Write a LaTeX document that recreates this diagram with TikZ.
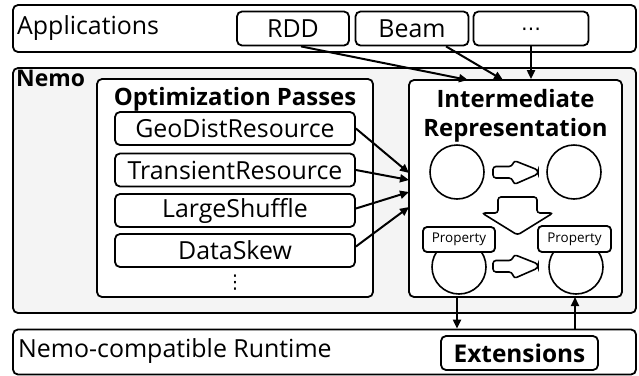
\documentclass[tikz,border=0pt]{standalone}
\usepackage{fontspec}
\setmainfont{Open Sans}
\newfontfamily\symfont{DejaVu Sans}
\usetikzlibrary{arrows.meta}

\begin{document}
\begin{tikzpicture}[x=1bp,y=-1bp,
  box/.style={draw, rounded corners=5bp, line width=1.8bp, inner sep=0pt, fill=white},
  label/.style={inner sep=0pt, font=\fontsize{25}{26}\selectfont},
  passbox/.style={box, minimum width=240bp, minimum height=33bp, font=\fontsize{25}{26}\selectfont},
  appbox/.style={box, minimum height=34bp, font=\fontsize{25}{26}\selectfont},
  propbox/.style={box, rounded corners=4bp, minimum width=72bp, minimum height=25bp, font=\fontsize{13.5}{14}\selectfont},
  blob/.style={draw, circle, line width=1.6bp, minimum size=54bp, inner sep=0pt, fill=white},
  title/.style={inner sep=0pt, font=\bfseries\fontsize{24}{24}\selectfont},
  arr/.style={-{Triangle[length=9bp,width=8bp]}, line width=2bp},
  fat/.style={draw, line width=1.6bp, rounded corners=3bp, fill=white}
]
\useasboundingbox (0,0) rectangle (639,375);

% application layer
\node[box, minimum width=623bp, minimum height=47bp] (apps) at (324.5,28.5) {};
\node[label, anchor=west] (appstext) at (17,28) {Applications};
\node[appbox, minimum width=112bp] (rdd) at (293,28.5) {RDD};
\node[appbox, minimum width=113bp] (beam) at (412,28.5) {Beam};
\node[appbox, minimum width=115bp] (more) at (531,28.5) {\raisebox{-6.5bp}[0pt][0pt]{\symfont\fontsize{20}{20}\selectfont ⋯}};

% Nemo compiler
\node[box, fill=gray!9, minimum width=623bp, minimum height=245bp] (nemo) at (324.5,190.5) {};
\node[title, anchor=north west, font=\bfseries\fontsize{23}{24}\selectfont] (nemotext) at (16,70) {Nemo};

% optimization passes
\node[box, minimum width=276bp, minimum height=218bp] (opt) at (235,188) {};
\node[title] (opttitle) at (235,99) {Optimization Passes};
\node[passbox] (geo) at (235,128.5) {GeoDistResource};
\node[passbox] (trans) at (235,170) {TransientResource};
\node[passbox] (shuffle) at (235,210.5) {LargeShuffle};
\node[passbox] (skew) at (235,250.5) {DataSkew};
\node[inner sep=0pt, font=\symfont\fontsize{19}{19}\selectfont] (vdots) at (235,283) {⋮};

% intermediate representation
\node[box, minimum width=213bp, minimum height=217bp] (ir) at (515.5,188.5) {};
\node[title] (irtitle1) at (515.5,99) {Intermediate};
\node[title] (irtitle2) at (515.5,130) {Representation};
\node[blob] (c1) at (457,172) {};
\node[blob] (c2) at (574,172) {};
\node[blob] (c3) at (459,267) {};
\node[blob] (c4) at (576,267) {};
\node[propbox] (p1) at (459,239.5) {Property};
\node[propbox, minimum width=73bp, minimum height=26bp] (p2) at (574.5,239) {Property};

% block arrows inside the IR
\path[fat] (493,172) -- (493,166.5) -- (512,166.5) -- (514,160.5) -- (538,170) -- (538,174) -- (514,184.5) -- (512,178) -- (493,178) -- cycle;
\path[fat] (493,266) -- (493,260.5) -- (512,260.5) -- (514,254.5) -- (538,264) -- (538,268) -- (514,278.5) -- (512,272) -- (493,272) -- cycle;
\path[fat] (517.5,197) -- (537,197) -- (537,213) -- (553,213) -- (517.5,235) -- (482,213) -- (498,213) -- (498,197) -- cycle;

% runtime layer
\node[box, minimum width=623bp, minimum height=45bp] (runtime) at (324.5,352) {};
\node[label, anchor=west] (rttext) at (18,351) {Nemo-compatible Runtime};
\node[box, minimum width=157bp, minimum height=34bp, font=\bfseries\fontsize{24.5}{26}\selectfont] (ext) at (519.5,353) {Extensions};

% connectors
\coordinate (irin1) at (468,80);
\coordinate (irin2) at (503,80);
\draw[arr] ([xshift=8bp]rdd.south) -- (irin1);
\draw[arr] ([xshift=34bp]beam.south) -- (irin2);
\draw[arr] (more.south) -- (more.south |- ir.north);

\coordinate (irw1) at (409,173);
\coordinate (irw2) at (409,180);
\coordinate (irw3) at (409,192);
\coordinate (irw4) at (409,207);
\draw[arr] (geo.east) -- (irw1);
\draw[arr] (trans.east) -- (irw2);
\draw[arr] ([yshift=2bp]shuffle.east) -- (irw3);
\draw[arr] ([yshift=4bp]skew.east) -- (irw4);

\coordinate (irdown) at (457,297);
\coordinate (irup) at (575,297);
\draw[arr] (irdown) -- (irdown |- runtime.north);
\draw[arr] (irup |- runtime.north) -- (irup);
\end{tikzpicture}
\end{document}
